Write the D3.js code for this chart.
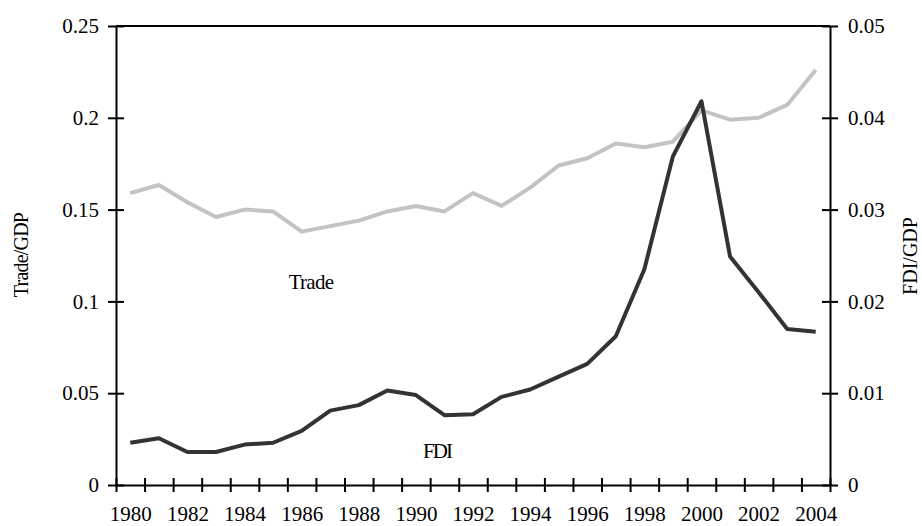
<!DOCTYPE html>
<html>
<head>
<meta charset="utf-8">
<script src="https://cdn.jsdelivr.net/npm/d3@7"></script>
<style>
  body { margin: 0; background: #fff; }
  text { font-family: "Liberation Serif", "Times New Roman", serif; fill: #000; }
</style>
</head>
<body>
<div id="chart"></div>
<script>
// Data
let years = d3.range(1980, 2005);
let trade = [0.159, 0.1634, 0.154, 0.146, 0.150, 0.149, 0.138, 0.141, 0.144, 0.149,
             0.152, 0.149, 0.159, 0.152, 0.162, 0.174, 0.178, 0.186, 0.184, 0.187,
             0.204, 0.199, 0.200, 0.207, 0.226];
let fdi = [0.0046, 0.0051, 0.0036, 0.0036, 0.0044, 0.0046, 0.0059, 0.0081, 0.0087, 0.0103,
           0.0098, 0.0076, 0.0077, 0.0096, 0.0104, 0.0118, 0.0132, 0.0162, 0.0235, 0.0358,
           0.0418, 0.0249, 0.0210, 0.0170, 0.0167];
let leftTicks = [0, 0.05, 0.1, 0.15, 0.2, 0.25];
let rightTicks = [0, 0.01, 0.02, 0.03, 0.04, 0.05];
let yearLabels = d3.range(1980, 2005, 2);

let width = 922;
let height = 526;
let margin = {top: 26, right: 92, bottom: 41, left: 116};
let serif = "'Liberation Serif', 'Times New Roman', serif";

let svg = d3.select("#chart")
            .append("svg")
            .attr("width", width)
            .attr("height", height);

// Scales
let x = d3.scaleLinear()
          .domain([1979.5, 2004.5])
          .range([margin.left, width - margin.right]);

let yLeft = d3.scaleLinear()
              .domain([0, 0.25])
              .range([height - margin.bottom, margin.top]);

let yRight = d3.scaleLinear()
               .domain([0, 0.05])
               .range([height - margin.bottom, margin.top]);

// Top border
svg.append("line")
   .attr("x1", x(1979.5))
   .attr("x2", x(2004.5))
   .attr("y1", yLeft(0.25))
   .attr("y2", yLeft(0.25))
   .style("stroke", "#000")
   .style("stroke-width", 2);

// Lines
let tradeLine = d3.line()
                  .x((d, i) => x(years[i]))
                  .y(d => yLeft(d));

let fdiLine = d3.line()
                .x((d, i) => x(years[i]))
                .y(d => yRight(d));

svg.append("path")
   .datum(trade)
   .attr("d", tradeLine)
   .style("fill", "none")
   .style("stroke", "#c3c3c3")
   .style("stroke-width", 4)
   .style("stroke-linejoin", "round");

svg.append("path")
   .datum(fdi)
   .attr("d", fdiLine)
   .style("fill", "none")
   .style("stroke", "#333333")
   .style("stroke-width", 4)
   .style("stroke-linejoin", "round");

// Helper to style an axis: black 2px lines, ticks crossing the axis
function styleAxis(g, horizontal) {
  g.attr("font-family", null).attr("font-size", null);
  g.select(".domain").style("stroke", "#000").style("stroke-width", 2);
  g.selectAll(".tick line").style("stroke", "#000").style("stroke-width", 2);
  if (horizontal) {
    g.selectAll(".tick line").attr("y1", -7).attr("y2", 7);
  } else {
    g.selectAll(".tick line").attr("x1", -8).attr("x2", 8);
  }
  g.selectAll("text").style("font-family", serif)
   .style("font-size", "21px").style("fill", "#000");
}

// Bottom axis: tick marks at year boundaries
let xTicks = svg.append("g")
   .attr("transform", "translate(0," + yLeft(0) + ")")
   .call(d3.axisBottom(x)
           .tickValues(d3.range(1979.5, 2005, 1))
           .tickFormat("")
           .tickSizeOuter(0));
styleAxis(xTicks, true);

// Bottom labels at every other year
let xLabels = svg.append("g")
   .attr("transform", "translate(0," + yLeft(0) + ")")
   .call(d3.axisBottom(x)
           .tickValues(yearLabels)
           .tickFormat(d3.format("d"))
           .tickSize(0)
           .tickPadding(21));
xLabels.attr("font-family", null).attr("font-size", null);
xLabels.select(".domain").remove();
xLabels.selectAll("text").style("font-family", serif)
       .style("font-size", "21px").style("fill", "#000");

// Left axis
let leftAxis = svg.append("g")
   .attr("transform", "translate(" + x(1979.5) + ",0)")
   .call(d3.axisLeft(yLeft)
           .tickValues(leftTicks)
           .tickFormat(d => d3.format("")(d))
           .tickSizeOuter(0));
styleAxis(leftAxis, false);
leftAxis.selectAll(".tick text").attr("x", -17);

// Right axis
let rightAxis = svg.append("g")
   .attr("transform", "translate(" + x(2004.5) + ",0)")
   .call(d3.axisRight(yRight)
           .tickValues(rightTicks)
           .tickFormat(d => d3.format("")(d))
           .tickSizeOuter(0));
styleAxis(rightAxis, false);
rightAxis.selectAll(".tick text").attr("x", 18);

// Axis titles
svg.append("text")
   .attr("transform", "translate(28,255) rotate(-90)")
   .attr("text-anchor", "middle")
   .style("font-size", "20px")
   .style("letter-spacing", "-0.8px")
   .text("Trade/GDP");

svg.append("text")
   .attr("transform", "translate(917,256) rotate(-90)")
   .attr("text-anchor", "middle")
   .style("font-size", "20px")
   .text("FDI/GDP");

// Series labels
svg.append("text")
   .attr("x", 311)
   .attr("y", 289)
   .attr("text-anchor", "middle")
   .style("font-size", "21px")
   .style("letter-spacing", "-0.7px")
   .text("Trade");

svg.append("text")
   .attr("x", 437)
   .attr("y", 458)
   .attr("text-anchor", "middle")
   .style("font-size", "21px")
   .style("letter-spacing", "-2px")
   .text("FDI");
</script>
</body>
</html>
